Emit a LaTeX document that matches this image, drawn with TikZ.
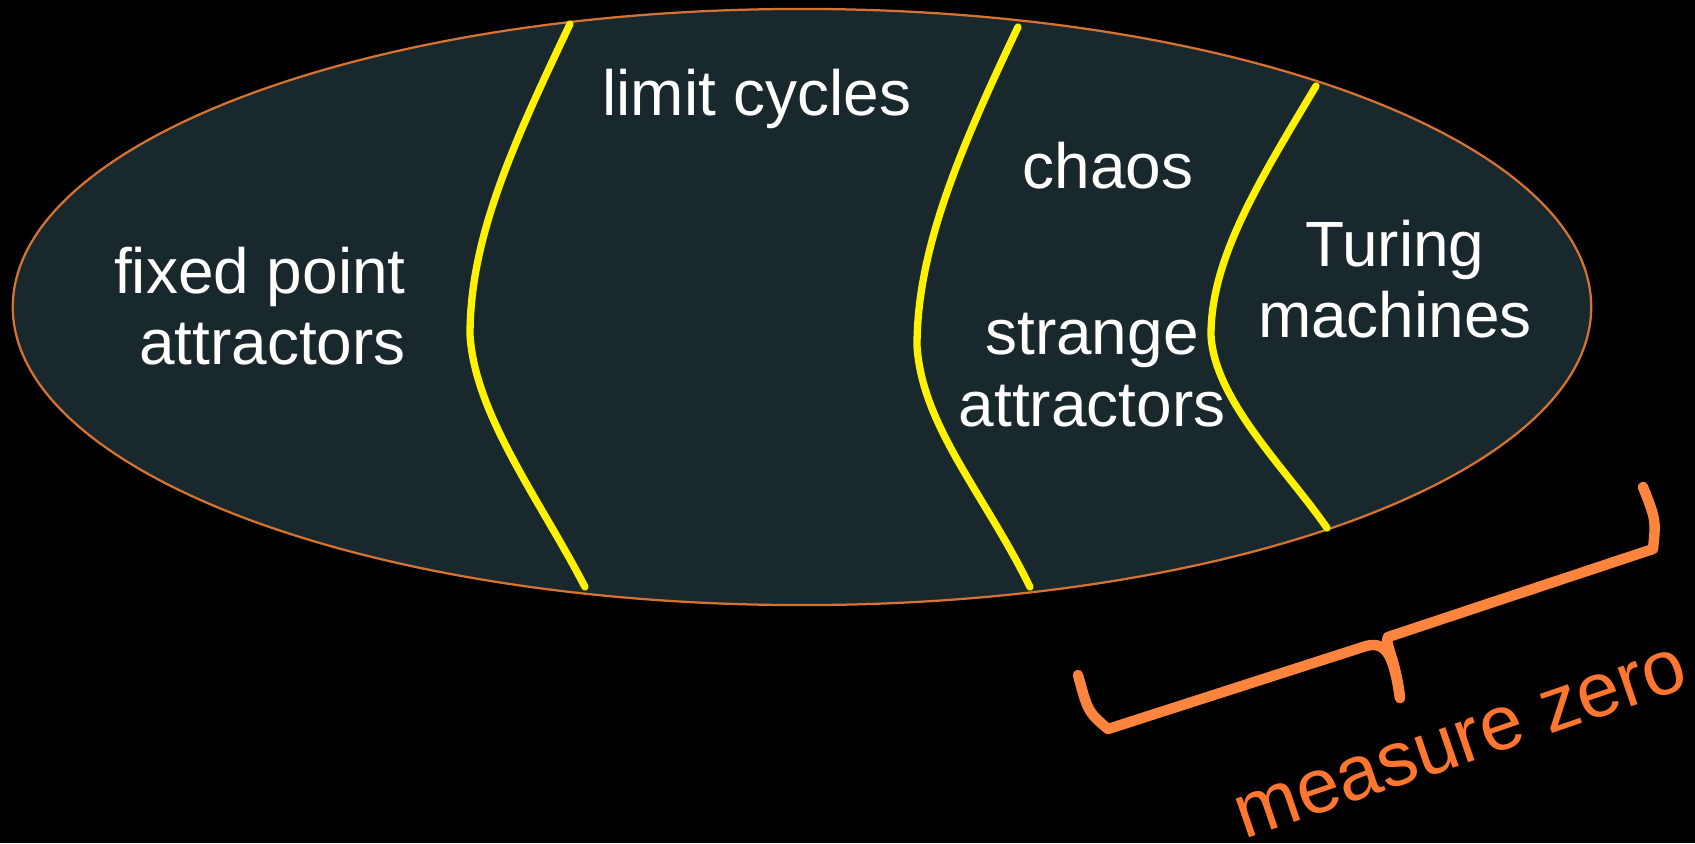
\documentclass[tikz,border=0pt]{standalone}
\usepackage{fontspec}
\setmainfont{Liberation Sans}
\usepackage{xcolor}
\usetikzlibrary{calc}

\definecolor{spacefill}{RGB}{24,40,44}
\definecolor{rimorange}{RGB}{215,115,50}
\definecolor{braceorange}{RGB}{255,132,62}
\definecolor{zeroorange}{RGB}{255,118,48}

\begin{document}
\begin{tikzpicture}[
    x=0.025cm, y=-0.025cm,
    lbl/.style={text=white, align=center, inner sep=0pt, font=\fontsize{45.5}{51}\selectfont},
    divider/.style={draw=yellow, line width=5.2pt, line cap=round},
    brc/.style={draw=braceorange, line width=7.4pt, line cap=round, line join=round}
]

% background and outer bounds
\fill[black] (0,0) rectangle (1695,843);
\useasboundingbox (0,0) rectangle (1695,843);

% the space of dynamical behaviours
\draw[fill=spacefill, draw=rimorange, line width=1.6pt] (802,307) ellipse [x radius=19.725cm, y radius=7.45cm];

% dividing curves
\draw[divider] (570,24) .. controls (510,150) and (470,240) .. (470,335)
    .. controls (475,415) and (540,500) .. (585,587);
\draw[divider] (1018,27) .. controls (958,153) and (917,251) .. (917,346)
    .. controls (922,426) and (985,495) .. (1030,587);
\draw[divider] (1316,86) .. controls (1256,186) and (1211,260) .. (1211,335)
    .. controls (1214,400) and (1287,470) .. (1327,528);

% region labels
\node[lbl, align=right, anchor=east] (fixed) at (406,306) {fixed point\\attractors};
\node[lbl] (cycles) at (757,99) {limit cycles};
\node[lbl] (chaos) at (1108,166) {chaos};
\node[lbl] (strange) at (1092,370) {strange\\attractors};
\node[lbl] (turing) at (1395,279) {Turing\\machines};

% brace under the last regions
\coordinate (lefttip) at (1078,675);
\coordinate (leftcorner) at (1108,729);
\coordinate (midleft) at (1366,646);
\coordinate (midtip) at (1400,698);
\coordinate (midright) at (1388,637);
\coordinate (rightcorner) at (1653,549);
\coordinate (righttip) at (1643,487);

\draw[brc] (lefttip) .. controls (1088,712) .. (leftcorner) -- (midleft)
    .. controls (1388,640) and (1394,660) .. (midtip);
\draw[brc] (midtip) .. controls (1396,660) and (1384,642) .. (midright)
    -- (rightcorner) .. controls (1656,520) .. (righttip);

\node[text=zeroorange, inner sep=0pt, anchor=base west, rotate=19,
    font=\fontsize{55}{60}\selectfont] (zero) at (1244,840) {measure zero};

\end{tikzpicture}
\end{document}
